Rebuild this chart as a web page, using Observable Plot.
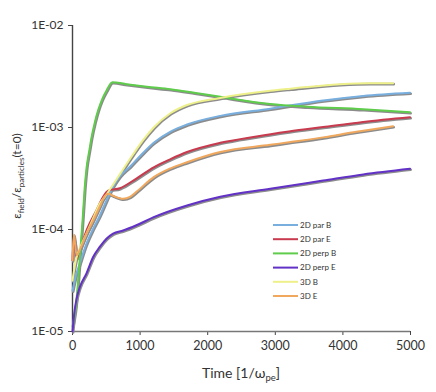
<!DOCTYPE html>
<html><head><meta charset="utf-8">
<script src="https://cdn.jsdelivr.net/npm/d3@7"></script>
<script src="https://cdn.jsdelivr.net/npm/@observablehq/plot@0.6"></script>
<style>body{margin:0;background:#fff}</style>
</head><body><div id="chart"></div>
<script>
const seriesNames = ["2D par B", "2D par E", "2D perp B", "2D perp E", "3D B", "3D E"];
const seriesColors = ["#78afdf", "#c83a4e", "#5fcc4c", "#6231c6", "#eef08a", "#f0a85e"];

const tParB = [0, 50, 100, 200, 300, 400, 500, 600, 700, 857, 1000, 1201, 1450, 1694, 2186, 2925, 3708, 4300, 4993];
const vParB = [2.51e-5, 3.55e-5, 4.47e-5, 7.08e-5, 1.0e-4, 1.35e-4, 1.91e-4, 2.63e-4, 3.31e-4, 4.17e-4, 5.25e-4, 7.08e-4, 9.12e-4, 1.07e-3, 1.30e-3, 1.53e-3, 1.84e-3, 2.04e-3, 2.19e-3];

const tParE = [0, 20, 40, 60, 120, 207, 355, 453, 527, 700, 945, 1201, 1450, 1694, 2186, 2700, 3200, 3708, 4300, 4993];
const vParE = [5.0e-5, 8.3e-5, 7.1e-5, 5.2e-5, 6.6e-5, 9.8e-5, 1.55e-4, 2.09e-4, 2.4e-4, 2.54e-4, 3.16e-4, 4.07e-4, 4.9e-4, 5.75e-4, 7.08e-4, 8.13e-4, 9.12e-4, 1.01e-3, 1.135e-3, 1.26e-3];

const tPerpB = [0, 40, 84, 120, 150, 182, 207, 250, 280, 330, 380, 440, 502, 590, 800, 1100, 1448, 1800, 2186, 2925, 3467, 4300, 4993];
const vPerpB = [1.12e-5, 1.58e-5, 3.16e-5, 6.8e-5, 1.26e-4, 2.63e-4, 3.98e-4, 6.0e-4, 7.9e-4, 1.12e-3, 1.48e-3, 1.9e-3, 2.29e-3, 2.78e-3, 2.66e-3, 2.51e-3, 2.37e-3, 2.19e-3, 2.0e-3, 1.70e-3, 1.60e-3, 1.51e-3, 1.41e-3];

const tPerpE = [0, 30, 60, 108, 207, 305, 403, 502, 600, 749, 945, 1201, 1694, 2186, 2925, 3708, 4300, 4993];
const vPerpE = [1.0e-5, 1.58e-5, 2.09e-5, 2.72e-5, 3.72e-5, 5.37e-5, 6.76e-5, 8.13e-5, 9.12e-5, 9.77e-5, 1.10e-4, 1.32e-4, 1.72e-4, 2.09e-4, 2.51e-4, 3.02e-4, 3.47e-4, 3.94e-4];

const t3DB = [0, 50, 100, 200, 300, 400, 500, 600, 709, 900, 1050, 1201, 1448, 1694, 2186, 2925, 3220, 3959, 4400, 4742];
const v3DB = [3.16e-5, 5.01e-5, 6.31e-5, 8.91e-5, 1.26e-4, 1.78e-4, 2.19e-4, 2.75e-4, 3.55e-4, 5.5e-4, 7.59e-4, 1.0e-3, 1.38e-3, 1.66e-3, 1.95e-3, 2.29e-3, 2.4e-3, 2.66e-3, 2.72e-3, 2.72e-3];

const t3DE = [0, 20, 40, 60, 120, 200, 300, 400, 480, 530, 600, 749, 850, 945, 1201, 1450, 1694, 2186, 2925, 3200, 3708, 4200, 4742];
const v3DE = [5.0e-5, 8.9e-5, 7.1e-5, 5.6e-5, 6.6e-5, 8.9e-5, 1.2e-4, 1.66e-4, 2.14e-4, 2.24e-4, 2.14e-4, 2.0e-4, 2.09e-4, 2.34e-4, 3.26e-4, 3.98e-4, 4.57e-4, 5.75e-4, 6.76e-4, 7.16e-4, 8.0e-4, 9.1e-4, 1.03e-3];

const xTicks = [0, 1000, 2000, 3000, 4000, 5000];
const yTicks = [1e-5, 1e-4, 1e-3, 1e-2];
const yTickLabels = ["1E-05", "1E-04", "1E-03", "1E-02"];

const allT = [tParB, tParE, tPerpB, tPerpE, t3DB, t3DE];
const allV = [vParB, vParE, vPerpB, vPerpE, v3DB, v3DE];
const rows = [];
seriesNames.forEach((s, i) => allT[i].forEach((t, j) => rows.push({s, t, v: allV[i][j]})));

const font = "Lato, 'Open Sans', sans-serif";
const plot = Plot.plot({
  width: 436, height: 392,
  marginLeft: 72, marginRight: 26, marginTop: 25, marginBottom: 61,
  style: {fontFamily: font, color: "#333", background: "#fff"},
  x: {domain: [0, 5000]},
  y: {type: "log", domain: [1e-5, 1e-2]},
  color: {domain: seriesNames, range: seriesColors},
  marks: [
    Plot.axisX({ticks: xTicks, tickFormat: d => String(d), tickSize: 4, tickPadding: 6, fontSize: 12.5, label: null, stroke: "#444"}),
    Plot.axisY({ticks: yTicks, tickFormat: d => yTickLabels[yTicks.indexOf(d)], tickSize: 4, tickPadding: 5, fontSize: 12, label: null, stroke: "#444"}),
    Plot.ruleX([0], {stroke: "#444", strokeWidth: 1.4}),
    Plot.ruleY([1e-5], {stroke: "#777", strokeWidth: 1.4}),
    Plot.line(rows, {x: "t", y: "v", z: "s", stroke: "#8c8c8c", strokeWidth: 2.6, dx: 0.7, dy: 1, curve: "monotone-x"}),
    Plot.line(rows, {x: "t", y: "v", z: "s", stroke: "s", strokeWidth: 2, curve: "monotone-x"})
  ]
});
document.getElementById("chart").appendChild(plot);

const svg = d3.select(plot);
// y label
const yl = svg.append("text")
  .attr("transform", "translate(21,176) rotate(-90)")
  .attr("text-anchor", "middle")
  .attr("font-family", font).attr("font-size", 12).attr("fill", "#333");
yl.append("tspan").text("ε");
yl.append("tspan").attr("font-size", 8).attr("dy", 3).text("field");
yl.append("tspan").attr("dy", -3).text("/ε");
yl.append("tspan").attr("font-size", 8).attr("dy", 3).text("particles");
yl.append("tspan").attr("dy", -3).text("(t=0)");
// x label
const xl = svg.append("text")
  .attr("x", 241).attr("y", 378)
  .attr("text-anchor", "middle")
  .attr("font-family", font).attr("font-size", 14).attr("fill", "#333");
xl.append("tspan").text("Time [1/ω");
xl.append("tspan").attr("font-size", 9.5).attr("dy", 3).text("pe");
xl.append("tspan").attr("dy", -3).text("]");
// legend
const lg = svg.append("g").attr("font-family", font).attr("font-size", 8).attr("fill", "#333").attr("text-anchor", "start");
seriesNames.forEach((s, i) => {
  const y = 225 + i * 14.2;
  lg.append("line").attr("x1", 273).attr("x2", 298).attr("y1", y).attr("y2", y)
    .attr("stroke", seriesColors[i]).attr("stroke-width", 2);
  lg.append("text").attr("x", 300).attr("y", y).attr("dy", "0.35em").text(s);
});
</script>
</body></html>
